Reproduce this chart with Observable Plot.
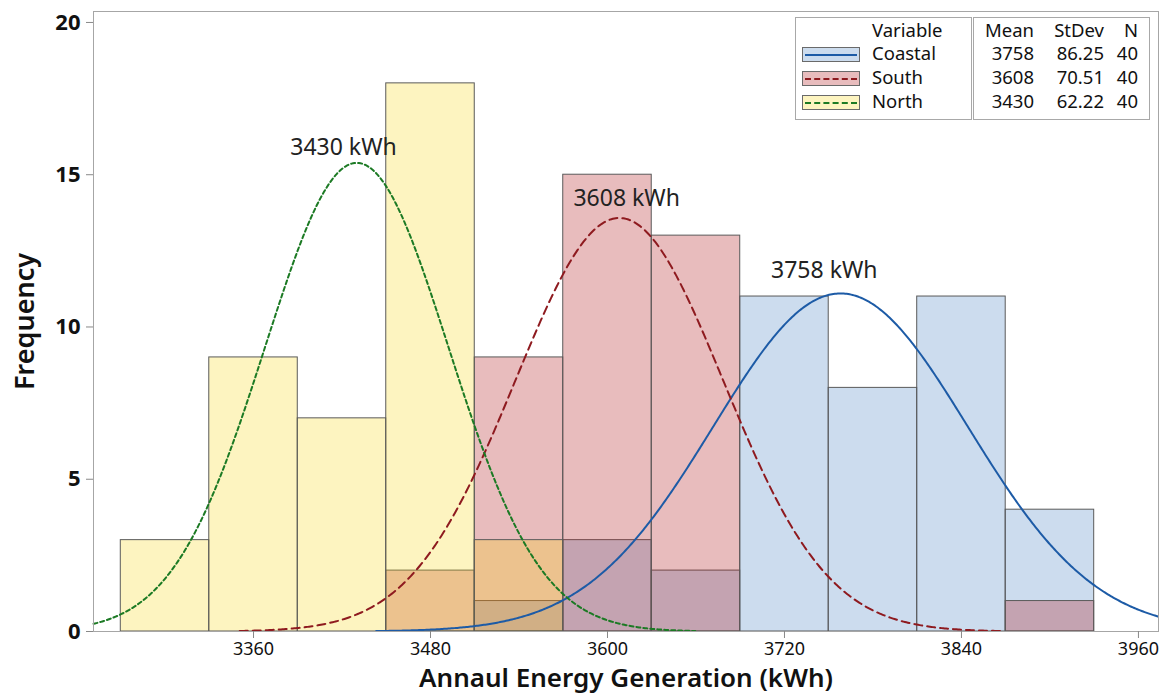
<!DOCTYPE html>
<html>
<head>
<meta charset="utf-8">
<script src="https://cdn.jsdelivr.net/npm/d3@7"></script>
<script src="https://cdn.jsdelivr.net/npm/@observablehq/plot@0.6"></script>
<style>
  body { margin: 0; background: #fff; }
  #wrap { position: relative; width: 1174px; height: 698px; font-family: "Noto Sans", "Open Sans", sans-serif; }
  #wrap svg { position: absolute; left: 0; top: 0; }
  .lgbox { position: absolute; border: 1px solid #a8a8a8; background: #fff; box-sizing: border-box; }
  .lt { position: absolute; font-size: 18.5px; color: #111; line-height: 22px; white-space: nowrap; }
  .sw { position: absolute; box-sizing: border-box; border: 1px solid #6a6a6a; }
</style>
</head>
<body>
<div id="wrap"></div>
<script>
// ---- data ----
const binCenters = [3300, 3360, 3420, 3480, 3540, 3600, 3660, 3720, 3780, 3840, 3900];
const binWidth = 60;
const coastalCounts = [0, 0, 0, 0, 1, 3, 2, 11, 8, 11, 4];
const southCounts   = [0, 0, 0, 2, 9, 15, 13, 0, 0, 0, 1];
const northCounts   = [3, 9, 7, 18, 3, 0, 0, 0, 0, 0, 0];
const seriesNames = ["Coastal", "South", "North"];
const means  = [3758, 3608, 3430];
const stdevs = [86.25, 70.51, 62.22];
const ns     = [40, 40, 40];
const xTicks = [3360, 3480, 3600, 3720, 3840, 3960];
const yTicks = [0, 5, 10, 15, 20];
const peakLabels = ["3430 kWh", "3608 kWh", "3758 kWh"];
const peakLabelX = [3421, 3613, 3747];
const peakLabelY = [15.9, 14.2, 11.85];

// ---- styles ----
const fills   = {Coastal: "#558ac6", South: "#b22026", North: "#f7d303"};
const fillOp  = {Coastal: 0.3, South: 0.3, North: 0.25};
const strokes = {Coastal: "#1d5ba6", South: "#8e1a1f", North: "#1c7a24"};
const dashes  = {Coastal: null, South: "8,5", North: "4,3"};
const xDomain = [3251.5, 3973.6];

const countsBy = {Coastal: coastalCounts, South: southCounts, North: northCounts};
function barsFor(name) {
  return binCenters.map((c, i) => ({x1: c - binWidth / 2, x2: c + binWidth / 2, y: countsBy[name][i]}))
                   .filter(d => d.y > 0);
}
function curveFor(k) {
  const m = means[k], s = stdevs[k], n = ns[k];
  const lo = Math.max(xDomain[0], m - 3.65 * s), hi = Math.min(xDomain[1], m + 3.7 * s);
  const pts = [];
  for (let x = lo; x <= hi + 1e-9; x += 1) {
    const z = (x - m) / s;
    pts.push({x, y: n * binWidth * Math.exp(-0.5 * z * z) / (s * Math.sqrt(2 * Math.PI))});
  }
  return pts;
}

const drawOrder = ["Coastal", "South", "North"];
const marks = [];
for (const name of drawOrder) {
  marks.push(Plot.rect(barsFor(name), {
    x1: "x1", x2: "x2", y1: 0, y2: "y",
    fill: fills[name], fillOpacity: fillOp[name], stroke: "#5a5a5a", strokeWidth: 1
  }));
}
seriesNames.forEach((name, k) => {
  marks.push(Plot.line(curveFor(k), {
    x: "x", y: "y", stroke: strokes[name], strokeWidth: 2,
    strokeDasharray: dashes[name] || undefined
  }));
});
marks.push(Plot.text(peakLabels.map((t, i) => ({t, x: peakLabelX[i], y: peakLabelY[i]})), {
  x: "x", y: "y", text: "t", fontSize: 23, fill: "#222", textAnchor: "middle"
}));
marks.push(Plot.frame({stroke: "#a6a6a6", strokeWidth: 1}));
marks.push(Plot.axisX({ticks: xTicks, tickSize: 7, tickPadding: 4, fontSize: 18, label: null, stroke: "#888", color: "#111", tickFormat: d => String(d)}));
marks.push(Plot.axisY({ticks: yTicks, tickSize: 7, tickPadding: 6, fontSize: 22, fontWeight: "bold", label: null, stroke: "#888", color: "#111"}));
marks.push(Plot.text(["Annaul Energy Generation (kWh)"], {frameAnchor: "bottom", dy: 55, fontSize: 26, fontWeight: 600, fill: "#111", textAnchor: "middle"}));
marks.push(Plot.text(["Frequency"], {frameAnchor: "left", dx: -68, rotate: -90, fontSize: 27, fontWeight: 600, fill: "#111", textAnchor: "middle"}));

const chart = Plot.plot({
  width: 1174, height: 698,
  marginLeft: 93, marginRight: 16, marginTop: 11, marginBottom: 67,
  x: {domain: xDomain},
  y: {domain: [0, 20.36]},
  style: {fontFamily: "'Noto Sans', 'Open Sans', sans-serif", background: "white", overflow: "visible"},
  marks
});
const wrap = document.getElementById("wrap");
wrap.appendChild(chart);

// ---- legend (HTML overlay) ----
function el(cls, css, html) {
  const d = document.createElement("div");
  d.className = cls; Object.assign(d.style, css);
  if (html != null) d.textContent = html;
  wrap.appendChild(d); return d;
}
el("lgbox", {left: "795px", top: "17px", width: "177px", height: "103px"});
el("lgbox", {left: "973px", top: "17px", width: "177px", height: "103px"});
const rowY = [19, 42, 66, 90];
el("lt", {left: "872px", top: rowY[0] + "px"}, "Variable");
const hdr = [["Mean", 1034], ["StDev", 1104], ["N", 1138]];
hdr.forEach(([t, r]) => el("lt", {left: (r - 80) + "px", width: "80px", textAlign: "right", top: rowY[0] + "px"}, t));
seriesNames.forEach((name, k) => {
  const y = rowY[k + 1];
  const sw = el("sw", {left: "802px", top: (y + 5) + "px", width: "58px", height: "15px", background: "#fff"});
  const inner = document.createElement("div");
  Object.assign(inner.style, {position: "absolute", inset: "0", background: fills[name], opacity: fillOp[name]});
  sw.appendChild(inner);
  const line = document.createElement("div");
  const dash = dashes[name];
  Object.assign(line.style, {position: "absolute", left: "2px", right: "2px", top: "6px", height: "0",
    borderTop: "2px " + (dash ? "dashed" : "solid") + " " + strokes[name]});
  sw.appendChild(line);
  el("lt", {left: "872px", top: y + "px"}, name);
  const vals = [String(means[k]), stdevs[k].toFixed(2), String(ns[k])];
  vals.forEach((t, j) => el("lt", {left: (hdr[j][1] - 80) + "px", width: "80px", textAlign: "right", top: y + "px"}, t));
});
</script>
</body>
</html>
